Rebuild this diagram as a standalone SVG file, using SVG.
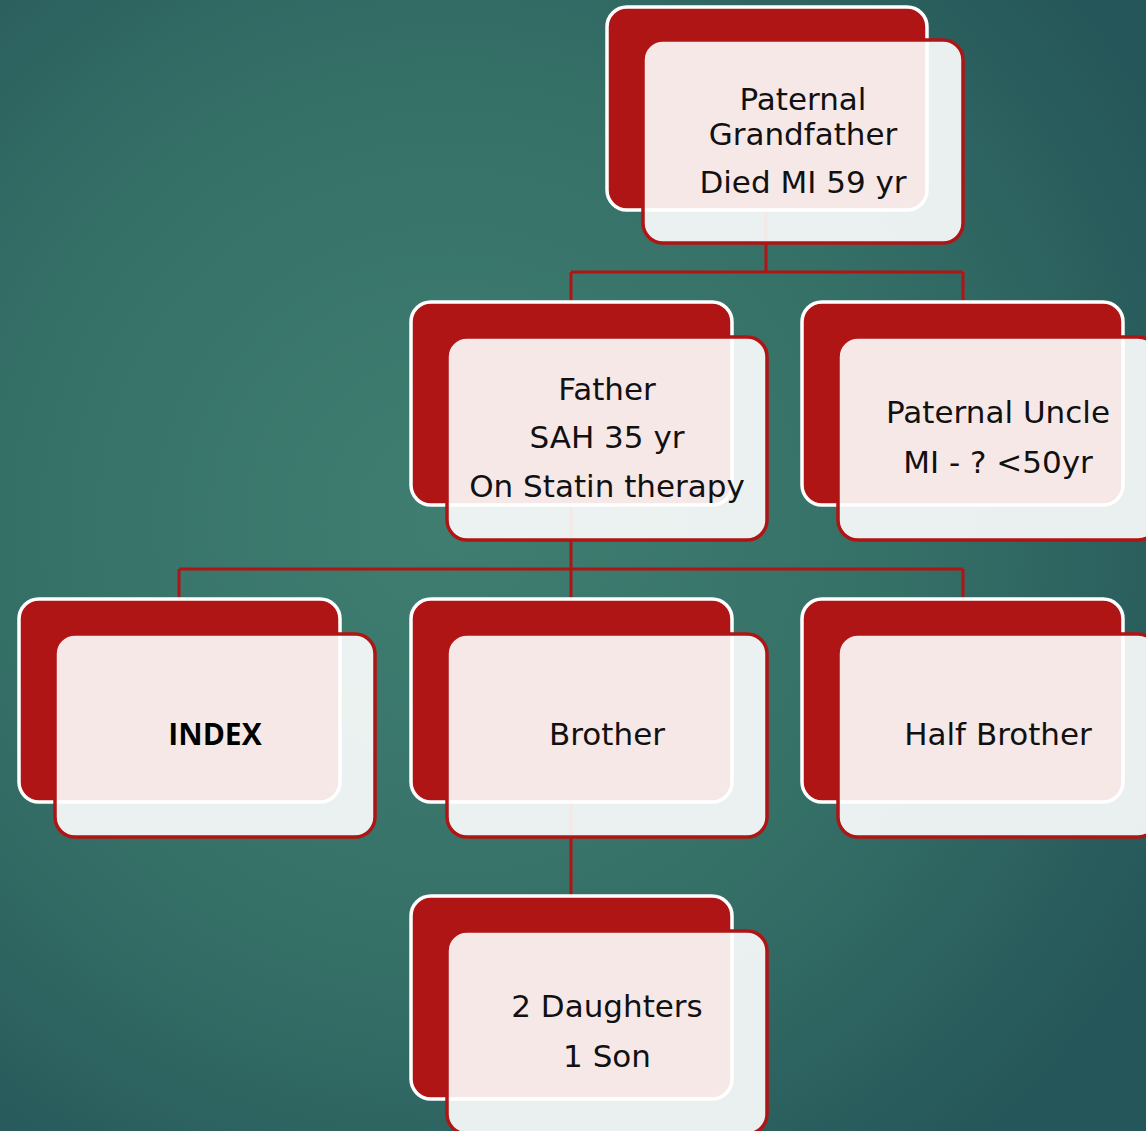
<svg xmlns="http://www.w3.org/2000/svg" width="1146" height="1131" viewBox="0 0 1146 1131">
  <defs>
    <radialGradient id="bg" cx="450" cy="520" r="820" gradientUnits="userSpaceOnUse">
      <stop offset="0" stop-color="#407e71"/>
      <stop offset="0.55" stop-color="#357067"/>
      <stop offset="1" stop-color="#255659"/>
    </radialGradient>
    <style>
      .back{fill:#b01515;stroke:#ffffff;stroke-width:3.5}
      .front{fill:#ffffff;fill-opacity:0.9;stroke:#b01515;stroke-width:3.5}
      .conn{fill:none;stroke:#b01515;stroke-width:3}
      .t{font-family:"DejaVu Sans","Liberation Sans",sans-serif;font-size:31px;fill:#111111;text-anchor:middle}
      .b{font-family:"Open Sans","DejaVu Sans",sans-serif;font-size:30px;font-weight:bold;fill:#000000;text-anchor:middle}
    </style>
  </defs>
  <rect x="0" y="0" width="1146" height="1131" fill="url(#bg)"/>
  <g id="connectors">
    <path class="conn" d="M766 210 V272 M571 272 H963 M571 272 V302 M963 272 V302"/>
    <path class="conn" d="M571 505 V569 M179 569 H963 M179 569 V599 M571 569 V599 M963 569 V599"/>
    <path class="conn" d="M571 803 V896"/>
  </g>
  <g id="grandfather">
    <rect class="back" x="607" y="7" width="320" height="203" rx="20"/>
    <rect class="front" x="643" y="40" width="320" height="203" rx="20"/>
    <text class="t" x="803" y="110">Paternal</text>
    <text class="t" x="803" y="145">Grandfather</text>
    <text class="t" x="803" y="193">Died MI 59 yr</text>
  </g>
  <g id="father">
    <rect class="back" x="411" y="302" width="321" height="203" rx="20"/>
    <rect class="front" x="447" y="337" width="320" height="203" rx="20"/>
    <text class="t" x="607" y="400">Father</text>
    <text class="t" x="607" y="448">SAH 35 yr</text>
    <text class="t" x="607" y="497">On Statin therapy</text>
  </g>
  <g id="uncle">
    <rect class="back" x="802" y="302" width="321" height="203" rx="20"/>
    <rect class="front" x="838" y="337" width="320" height="203" rx="20"/>
    <text class="t" x="998" y="423">Paternal Uncle</text>
    <text class="t" x="998" y="473">MI - ? &lt;50yr</text>
  </g>
  <g id="index">
    <rect class="back" x="19" y="599" width="321" height="203" rx="20"/>
    <rect class="front" x="55" y="634" width="320" height="203" rx="20"/>
    <text class="b" x="215" y="745">INDEX</text>
  </g>
  <g id="brother">
    <rect class="back" x="411" y="599" width="321" height="203" rx="20"/>
    <rect class="front" x="447" y="634" width="320" height="203" rx="20"/>
    <text class="t" x="607" y="745">Brother</text>
  </g>
  <g id="half-brother">
    <rect class="back" x="802" y="599" width="321" height="203" rx="20"/>
    <rect class="front" x="838" y="634" width="320" height="203" rx="20"/>
    <text class="t" x="998" y="745">Half Brother</text>
  </g>
  <g id="children">
    <rect class="back" x="411" y="896" width="321" height="203" rx="20"/>
    <rect class="front" x="447" y="931" width="320" height="203" rx="20"/>
    <text class="t" x="607" y="1017">2 Daughters</text>
    <text class="t" x="607" y="1067">1 Son</text>
  </g>
</svg>
